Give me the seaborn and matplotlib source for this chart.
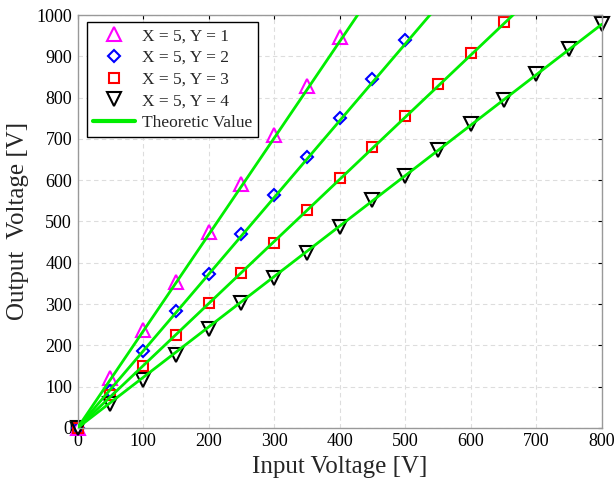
import seaborn as sns
import matplotlib.pyplot as plt

# measured output voltages, one series per Y setting (X = 5)
vin_y1 = [0, 50, 100, 150, 200, 250, 300, 350, 400]
vout_y1 = [0, 120, 236, 354, 474, 590, 709, 828, 946]

vin_y2 = [0, 50, 100, 150, 200, 250, 300, 350, 400, 450, 500]
vout_y2 = [0, 90, 187, 282, 372, 470, 564, 655, 751, 845, 940]

vin_y3 = [0, 50, 100, 150, 200, 250, 300, 350, 400, 450, 500, 550, 600, 650]
vout_y3 = [0, 80, 150, 224, 302, 376, 447, 528, 606, 681, 755, 833, 909, 983]

vin_y4 = [0, 50, 100, 150, 200, 250, 300, 350, 400, 450, 500, 550, 600, 650, 700, 750, 800]
vout_y4 = [0, 58, 116, 177, 239, 302, 364, 424, 487, 552, 610, 673, 735, 794, 857, 918, 978]

# theoretic gain Vout/Vin for each Y
theory_gain = [2.34, 1.86, 1.505, 1.222]
theory_vin = [0, 800]

labels = ["X = 5, Y = 1", "X = 5, Y = 2", "X = 5, Y = 3", "X = 5, Y = 4"]
colors = ["#ff00ff", "#0000ff", "#ff0000", "#000000"]
markers = ["^", "D", "s", "v"]
msizes = [9.5, 6.5, 7.5, 9.5]

sns.set_style("white")
plt.rcParams["font.family"] = ["Liberation Serif", "DejaVu Serif"]

fig = plt.figure(figsize=(6.16, 4.84), dpi=100)
ax = fig.add_axes([0.126, 0.116, 0.851, 0.853])

series = [(vin_y1, vout_y1), (vin_y2, vout_y2), (vin_y3, vout_y3), (vin_y4, vout_y4)]

# theoretic lines
for g in theory_gain:
    sns.lineplot(x=theory_vin, y=[g * v for v in theory_vin], color="#00ee00",
                 lw=2, ax=ax, zorder=3)

# measured points
for (xs, ys), lab, c, m, s in zip(series, labels, colors, markers, msizes):
    sns.lineplot(x=xs, y=ys, marker=m, linestyle="", markersize=s,
                 markerfacecolor="none", markeredgecolor=c, markeredgewidth=1.5,
                 color=c, label=lab, ax=ax, zorder=2, clip_on=False)

# legend entry for theory
ax.plot([], [], color="#00ee00", lw=3, label="Theoretic Value")

ax.set_xlim(0, 800)
ax.set_ylim(0, 1000)
ax.set_xticks(range(0, 801, 100))
ax.set_yticks(range(0, 1001, 100))
ax.grid(True, linestyle=(0, (4, 3)), color="#dddddd", lw=0.8)
ax.tick_params(direction="in", top=True, right=True, length=3, labelsize=13,
               colors="black", width=0.8, pad=4)
for sp in ax.spines.values():
    sp.set_color("#999999")
    sp.set_linewidth(1)

ax.set_xlabel("Input Voltage [V]", fontsize=18, labelpad=4)
ax.set_ylabel("Output  Voltage [V]", fontsize=18, labelpad=5)

leg = ax.legend(loc="upper left", bbox_to_anchor=(0.018, 0.983), borderaxespad=0,
                fontsize=12.5, fancybox=False, framealpha=1, edgecolor="black",
                handlelength=2.4, handletextpad=0.4, borderpad=0.35,
                labelspacing=0.32, markerscale=1.0)
leg.get_frame().set_linewidth(1)

fig.savefig("out.png", dpi=100)
